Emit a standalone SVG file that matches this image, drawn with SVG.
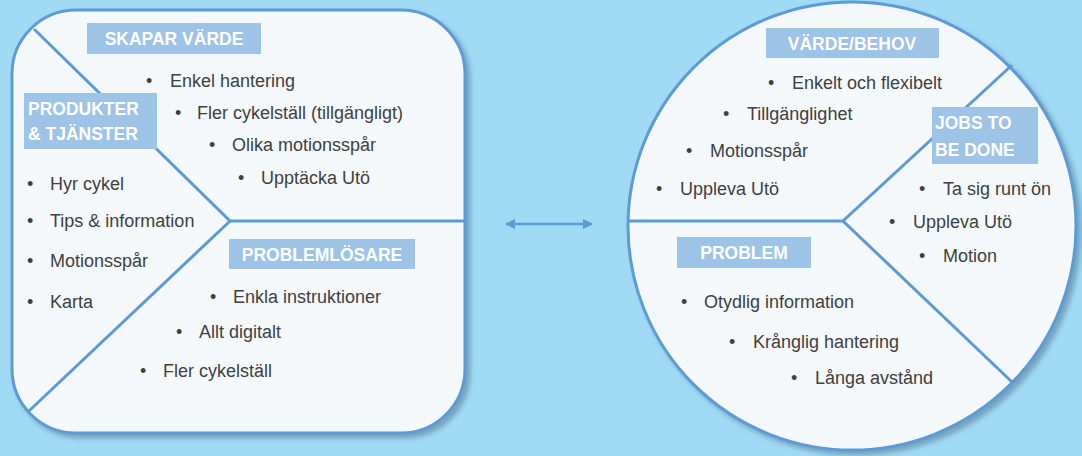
<svg xmlns="http://www.w3.org/2000/svg" width="1082" height="456" viewBox="0 0 1082 456">
<defs>
<style>
.panel{fill:#f4f8fb;stroke:#5b9bd5;stroke-width:3}
.div{stroke:#5b9bd5;stroke-width:3;fill:none;stroke-linecap:round}
.lbl{fill:#9dc3e6}
.lt{font-family:"Liberation Sans",Arial,sans-serif;font-weight:bold;font-size:17.5px;fill:#ffffff}
.t{font-family:"Liberation Sans",Arial,sans-serif;font-size:18px;fill:#404040}
</style>
<filter id="sh" x="-10%" y="-10%" width="125%" height="125%">
<feDropShadow dx="4" dy="4" stdDeviation="2.5" flood-color="#5a7f9a" flood-opacity="0.6"/>
</filter>
<marker id="ah" viewBox="0 0 10 10" refX="9" refY="5" markerWidth="4" markerHeight="4" orient="auto-start-reverse">
<path d="M0,0 L10,5 L0,10 z" fill="#5b9bd5"/>
</marker>
</defs>
<rect width="1082" height="456" fill="#a0daf5"/>

<g id="left-panel">
<rect class="panel" x="12" y="10" width="453" height="423" rx="64" ry="64" filter="url(#sh)"/>
</g>

<g id="right-panel">
<circle class="panel" cx="852" cy="226" r="224" filter="url(#sh)"/>
</g>

<g id="connectors">
<polyline class="div" points="35,30 230,221 30,410"/>
<line class="div" x1="230" y1="221" x2="464" y2="221"/>
<line class="div" x1="629" y1="221" x2="843" y2="221"/>
<polyline class="div" points="1011,66 843,221 1012,382"/>
<line x1="506" y1="224" x2="592" y2="224" stroke="#5b9bd5" stroke-width="2.5" marker-start="url(#ah)" marker-end="url(#ah)"/>
</g>

<g id="skapar-varde">
<rect class="lbl" x="87" y="23" width="174" height="31"/>
<text class="lt" x="174" y="45" text-anchor="middle">SKAPAR VÄRDE</text>
<text class="t" x="146" y="87">•</text><text class="t" x="170" y="87">Enkel hantering</text>
<text class="t" x="175" y="119">•</text><text class="t" x="197" y="119">Fler cykelställ (tillgängligt)</text>
<text class="t" x="209" y="151">•</text><text class="t" x="232" y="151">Olika motionsspår</text>
<text class="t" x="238" y="184">•</text><text class="t" x="261" y="184">Upptäcka Utö</text>
</g>

<g id="produkter-tjanster">
<rect class="lbl" x="24" y="93" width="133" height="56"/>
<text class="lt" x="28" y="115">PRODUKTER</text>
<text class="lt" x="28" y="140">&amp; TJÄNSTER</text>
<text class="t" x="27" y="190">•</text><text class="t" x="50" y="190">Hyr cykel</text>
<text class="t" x="27" y="227">•</text><text class="t" x="50" y="227">Tips &amp; information</text>
<text class="t" x="27" y="267">•</text><text class="t" x="50" y="267">Motionsspår</text>
<text class="t" x="27" y="308">•</text><text class="t" x="50" y="308">Karta</text>
</g>

<g id="problemlosare">
<rect class="lbl" x="229" y="239" width="186" height="30"/>
<text class="lt" x="322" y="261" text-anchor="middle">PROBLEMLÖSARE</text>
<text class="t" x="210" y="303">•</text><text class="t" x="233" y="303">Enkla instruktioner</text>
<text class="t" x="176" y="338">•</text><text class="t" x="199" y="338">Allt digitalt</text>
<text class="t" x="140" y="377">•</text><text class="t" x="163" y="377">Fler cykelställ</text>
</g>

<g id="varde-behov">
<rect class="lbl" x="766" y="28" width="173" height="30"/>
<text class="lt" x="852" y="50" text-anchor="middle">VÄRDE/BEHOV</text>
<text class="t" x="768" y="89">•</text><text class="t" x="792" y="89">Enkelt och flexibelt</text>
<text class="t" x="723" y="120">•</text><text class="t" x="747" y="120">Tillgänglighet</text>
<text class="t" x="686" y="157">•</text><text class="t" x="710" y="157">Motionsspår</text>
<text class="t" x="656" y="195">•</text><text class="t" x="680" y="195">Uppleva Utö</text>
</g>

<g id="jobs-to-be-done">
<rect class="lbl" x="932" y="107" width="106" height="57"/>
<text class="lt" x="935" y="129">JOBS TO</text>
<text class="lt" x="935" y="156">BE DONE</text>
<text class="t" x="919" y="195">•</text><text class="t" x="943" y="195">Ta sig runt ön</text>
<text class="t" x="889" y="228">•</text><text class="t" x="913" y="228">Uppleva Utö</text>
<text class="t" x="919" y="262">•</text><text class="t" x="943" y="262">Motion</text>
</g>

<g id="problem">
<rect class="lbl" x="677" y="237" width="134" height="31"/>
<text class="lt" x="744" y="259" text-anchor="middle">PROBLEM</text>
<text class="t" x="681" y="308">•</text><text class="t" x="704" y="308">Otydlig information</text>
<text class="t" x="729" y="348">•</text><text class="t" x="753" y="348">Krånglig hantering</text>
<text class="t" x="791" y="384">•</text><text class="t" x="815" y="384">Långa avstånd</text>
</g>
</svg>
